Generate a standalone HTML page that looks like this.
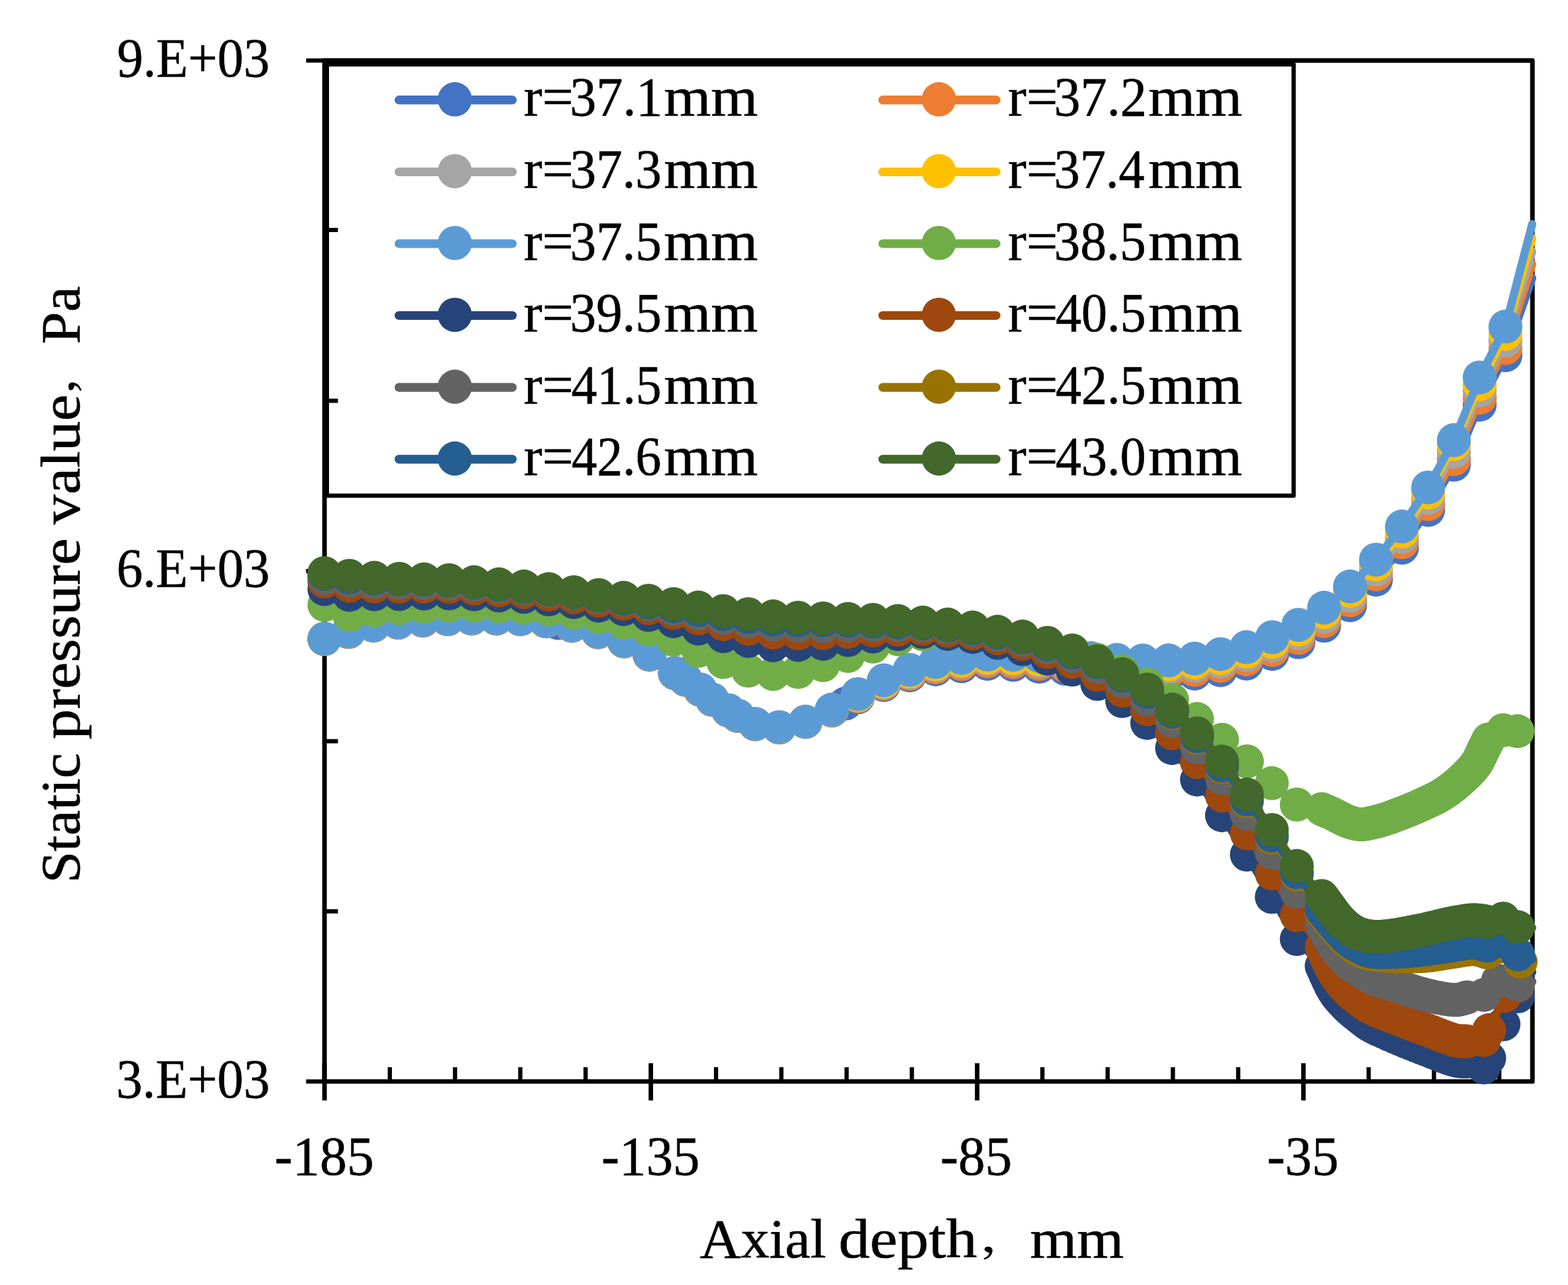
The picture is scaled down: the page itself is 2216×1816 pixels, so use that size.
<!DOCTYPE html>
<html lang="en"><head><meta charset="utf-8"><title>Static pressure value vs axial depth</title>
<style>html,body{margin:0;padding:0;background:#fff}body{width:2216px;height:1816px}svg{display:block}text{font-family:"Liberation Serif","Noto Serif CJK SC",serif;fill:#000}</style></head><body>
<svg width="2216" height="1816" viewBox="0 0 2216 1816">
<rect width="2216" height="1816" fill="#fff"/>
<g stroke="#000" stroke-width="6.4" fill="none">
<rect x="458.6" y="85.5" width="1707.1" height="1442.9" stroke-linejoin="round"/>
<line x1="432.6" y1="85.5" x2="458.6" y2="85.5" stroke-width="6"/>
<line x1="458.6" y1="325" x2="477.6" y2="325" stroke-width="6"/>
<line x1="458.6" y1="566.4" x2="477.6" y2="566.4" stroke-width="6"/>
<line x1="432.6" y1="807" x2="458.6" y2="807" stroke-width="6"/>
<line x1="458.6" y1="1047.5" x2="477.6" y2="1047.5" stroke-width="6"/>
<line x1="458.6" y1="1287.9" x2="477.6" y2="1287.9" stroke-width="6"/>
<line x1="432.6" y1="1528.4" x2="458.6" y2="1528.4" stroke-width="6"/>
<line x1="458.6" y1="1502.5" x2="458.6" y2="1555.2" stroke-width="6.4"/>
<line x1="550.9" y1="1508.2" x2="550.9" y2="1528.4" stroke-width="6"/>
<line x1="643.1" y1="1508.2" x2="643.1" y2="1528.4" stroke-width="6"/>
<line x1="735.3" y1="1508.2" x2="735.3" y2="1528.4" stroke-width="6"/>
<line x1="827.6" y1="1508.2" x2="827.6" y2="1528.4" stroke-width="6"/>
<line x1="919.8" y1="1502.5" x2="919.8" y2="1555.2" stroke-width="6.4"/>
<line x1="1012" y1="1508.2" x2="1012" y2="1528.4" stroke-width="6"/>
<line x1="1104.3" y1="1508.2" x2="1104.3" y2="1528.4" stroke-width="6"/>
<line x1="1196.5" y1="1508.2" x2="1196.5" y2="1528.4" stroke-width="6"/>
<line x1="1288.7" y1="1508.2" x2="1288.7" y2="1528.4" stroke-width="6"/>
<line x1="1381" y1="1502.5" x2="1381" y2="1555.2" stroke-width="6.4"/>
<line x1="1473.2" y1="1508.2" x2="1473.2" y2="1528.4" stroke-width="6"/>
<line x1="1565.4" y1="1508.2" x2="1565.4" y2="1528.4" stroke-width="6"/>
<line x1="1657.6" y1="1508.2" x2="1657.6" y2="1528.4" stroke-width="6"/>
<line x1="1749.9" y1="1508.2" x2="1749.9" y2="1528.4" stroke-width="6"/>
<line x1="1842.1" y1="1502.5" x2="1842.1" y2="1555.2" stroke-width="6.4"/>
<line x1="1934.3" y1="1508.2" x2="1934.3" y2="1528.4" stroke-width="6"/>
<line x1="2026.6" y1="1508.2" x2="2026.6" y2="1528.4" stroke-width="6"/>
<line x1="2118.8" y1="1508.2" x2="2118.8" y2="1528.4" stroke-width="6"/>
</g>
<rect x="462" y="91" width="1366.3" height="609.4" fill="none" stroke="#000" stroke-width="6" stroke-linejoin="round"/>
<g fill="#4472C4">
<path d="M458.5 903.3 L492.7 893.3 L527.7 884.4 L562.7 880.1 L597.6 877.2 L632.6 875.3 L666.6 874.4 L701.5 874.4 L735.5 875.3 L771.4 878.2 L808.3 884.5 L845.2 893.6 L882 906.5 L917.9 925.4 L953.8 951.6 L968.9 960.9 L989.7 975.1 L1006.7 989.2 L1029.4 1004.3 L1042.6 1011.9 L1067.2 1023.6 L1101.2 1028.3 L1138.4 1020.4 L1175.6 1004.3 L1212.5 985.6 L1249.1 968 L1285.7 954.4 L1322.3 945.9 L1358.9 941.6 L1395.5 938.1 L1432.1 939.6 L1468.7 942.2 L1505.3 945.1 L1541.9 947.3 L1578.5 950.8 L1615.1 952.7 L1651.7 953.5 L1688.3 951.9 L1724.9 947.1 L1761.5 937.8 L1798.1 924.1 L1835 907.6 L1871.3 884.3 L1908 855.3 L1944.6 819.2 L1981.3 774 L2018.3 720.7 L2054.7 656.8 L2091.2 571.9 L2127.6 502.1 L2165.4 392.8" fill="none" stroke="#4472C4" stroke-width="11.6" stroke-linecap="round" stroke-linejoin="round"/>
<circle cx="458.5" cy="903.3" r="24"/><circle cx="492.7" cy="893.3" r="24"/><circle cx="527.7" cy="884.4" r="24"/><circle cx="562.7" cy="880.1" r="24"/><circle cx="597.6" cy="877.2" r="24"/><circle cx="632.6" cy="875.3" r="24"/><circle cx="666.6" cy="874.4" r="24"/><circle cx="701.5" cy="874.4" r="24"/><circle cx="735.5" cy="875.3" r="24"/><circle cx="771.4" cy="878.2" r="24"/><circle cx="808.3" cy="884.5" r="24"/><circle cx="845.2" cy="893.6" r="24"/><circle cx="882" cy="906.5" r="24"/><circle cx="917.9" cy="925.4" r="24"/><circle cx="953.8" cy="951.6" r="24"/><circle cx="968.9" cy="960.9" r="24"/><circle cx="989.7" cy="975.1" r="24"/><circle cx="1006.7" cy="989.2" r="24"/><circle cx="1029.4" cy="1004.3" r="24"/><circle cx="1042.6" cy="1011.9" r="24"/><circle cx="1067.2" cy="1023.6" r="24"/><circle cx="1101.2" cy="1028.3" r="24"/><circle cx="1138.4" cy="1020.4" r="24"/><circle cx="1175.6" cy="1004.3" r="24"/><circle cx="1212.5" cy="985.6" r="24"/><circle cx="1249.1" cy="968" r="24"/><circle cx="1285.7" cy="954.4" r="24"/><circle cx="1322.3" cy="945.9" r="24"/><circle cx="1358.9" cy="941.6" r="24"/><circle cx="1395.5" cy="938.1" r="24"/><circle cx="1432.1" cy="939.6" r="24"/><circle cx="1468.7" cy="942.2" r="24"/><circle cx="1505.3" cy="945.1" r="24"/><circle cx="1541.9" cy="947.3" r="24"/><circle cx="1578.5" cy="950.8" r="24"/><circle cx="1615.1" cy="952.7" r="24"/><circle cx="1651.7" cy="953.5" r="24"/><circle cx="1688.3" cy="951.9" r="24"/><circle cx="1724.9" cy="947.1" r="24"/><circle cx="1761.5" cy="937.8" r="24"/><circle cx="1798.1" cy="924.1" r="24"/><circle cx="1835" cy="907.6" r="24"/><circle cx="1871.3" cy="884.3" r="24"/><circle cx="1908" cy="855.3" r="24"/><circle cx="1944.6" cy="819.2" r="24"/><circle cx="1981.3" cy="774" r="24"/><circle cx="2018.3" cy="720.7" r="24"/><circle cx="2054.7" cy="656.8" r="24"/><circle cx="2091.2" cy="571.9" r="24"/><circle cx="2127.6" cy="502.1" r="24"/><circle cx="788.4" cy="880.4" r="24"/><circle cx="1194.8" cy="994.3" r="24"/>
</g>
<g fill="#ED7D31">
<path d="M458.5 903.2 L492.7 893.2 L527.7 884.2 L562.7 880 L597.6 877.1 L632.6 875.2 L666.6 874.2 L701.5 874.2 L735.5 875.2 L771.4 878.1 L808.3 884.4 L845.2 893.5 L882 906.4 L917.9 925.2 L953.8 951.5 L968.9 960.8 L989.7 975 L1006.7 989.1 L1029.4 1004.2 L1042.6 1011.8 L1067.2 1023.5 L1101.2 1028.2 L1138.4 1020.2 L1175.6 1003.9 L1212.5 984.4 L1249.1 966.3 L1285.7 952.3 L1322.3 943.1 L1358.9 938.5 L1395.5 934.6 L1432.1 935.8 L1468.7 938.2 L1505.3 940.9 L1541.9 942.9 L1578.5 946.2 L1615.1 947.9 L1651.7 948.5 L1688.3 946.7 L1724.9 941 L1761.5 931.9 L1798.1 918.5 L1835 901.5 L1871.3 877.8 L1908 848.3 L1944.6 811.9 L1981.3 766.4 L2018.3 712.5 L2054.7 648.8 L2091.2 562.2 L2127.6 491.9 L2165.4 373.5" fill="none" stroke="#ED7D31" stroke-width="11.6" stroke-linecap="round" stroke-linejoin="round"/>
<circle cx="458.5" cy="903.2" r="24"/><circle cx="492.7" cy="893.2" r="24"/><circle cx="527.7" cy="884.2" r="24"/><circle cx="562.7" cy="880" r="24"/><circle cx="597.6" cy="877.1" r="24"/><circle cx="632.6" cy="875.2" r="24"/><circle cx="666.6" cy="874.2" r="24"/><circle cx="701.5" cy="874.2" r="24"/><circle cx="735.5" cy="875.2" r="24"/><circle cx="771.4" cy="878.1" r="24"/><circle cx="808.3" cy="884.4" r="24"/><circle cx="845.2" cy="893.5" r="24"/><circle cx="882" cy="906.4" r="24"/><circle cx="917.9" cy="925.2" r="24"/><circle cx="953.8" cy="951.5" r="24"/><circle cx="968.9" cy="960.8" r="24"/><circle cx="989.7" cy="975" r="24"/><circle cx="1006.7" cy="989.1" r="24"/><circle cx="1029.4" cy="1004.2" r="24"/><circle cx="1042.6" cy="1011.8" r="24"/><circle cx="1067.2" cy="1023.5" r="24"/><circle cx="1101.2" cy="1028.2" r="24"/><circle cx="1138.4" cy="1020.2" r="24"/><circle cx="1175.6" cy="1003.9" r="24"/><circle cx="1212.5" cy="984.4" r="24"/><circle cx="1249.1" cy="966.3" r="24"/><circle cx="1285.7" cy="952.3" r="24"/><circle cx="1322.3" cy="943.1" r="24"/><circle cx="1358.9" cy="938.5" r="24"/><circle cx="1395.5" cy="934.6" r="24"/><circle cx="1432.1" cy="935.8" r="24"/><circle cx="1468.7" cy="938.2" r="24"/><circle cx="1505.3" cy="940.9" r="24"/><circle cx="1541.9" cy="942.9" r="24"/><circle cx="1578.5" cy="946.2" r="24"/><circle cx="1615.1" cy="947.9" r="24"/><circle cx="1651.7" cy="948.5" r="24"/><circle cx="1688.3" cy="946.7" r="24"/><circle cx="1724.9" cy="941" r="24"/><circle cx="1761.5" cy="931.9" r="24"/><circle cx="1798.1" cy="918.5" r="24"/><circle cx="1835" cy="901.5" r="24"/><circle cx="1871.3" cy="877.8" r="24"/><circle cx="1908" cy="848.3" r="24"/><circle cx="1944.6" cy="811.9" r="24"/><circle cx="1981.3" cy="766.4" r="24"/><circle cx="2018.3" cy="712.5" r="24"/><circle cx="2054.7" cy="648.8" r="24"/><circle cx="2091.2" cy="562.2" r="24"/><circle cx="2127.6" cy="491.9" r="24"/>
</g>
<g fill="#A5A5A5">
<path d="M458.5 903 L492.7 893 L527.7 884.1 L562.7 879.8 L597.6 876.9 L632.6 875 L666.6 874.1 L701.5 874.1 L735.5 875 L771.4 877.9 L808.3 884.2 L845.2 893.3 L882 906.2 L917.9 925.1 L953.8 951.3 L968.9 960.6 L989.7 974.8 L1006.7 988.9 L1029.4 1004 L1042.6 1011.6 L1067.2 1023.3 L1101.2 1028 L1138.4 1020.1 L1175.6 1003.5 L1212.5 983.2 L1249.1 964.7 L1285.7 950.5 L1322.3 940.6 L1358.9 935.6 L1395.5 931.5 L1432.1 932.4 L1468.7 934.4 L1505.3 936.8 L1541.9 938.4 L1578.5 941.3 L1615.1 942.6 L1651.7 942.9 L1688.3 940.7 L1724.9 935 L1761.5 925.8 L1798.1 912.2 L1835 895.2 L1871.3 871.5 L1908 842 L1944.6 805 L1981.3 758.8 L2018.3 703.9 L2054.7 638.3 L2091.2 551.9 L2127.6 481.6 L2165.4 355.6" fill="none" stroke="#A5A5A5" stroke-width="11.6" stroke-linecap="round" stroke-linejoin="round"/>
<circle cx="458.5" cy="903" r="24"/><circle cx="492.7" cy="893" r="24"/><circle cx="527.7" cy="884.1" r="24"/><circle cx="562.7" cy="879.8" r="24"/><circle cx="597.6" cy="876.9" r="24"/><circle cx="632.6" cy="875" r="24"/><circle cx="666.6" cy="874.1" r="24"/><circle cx="701.5" cy="874.1" r="24"/><circle cx="735.5" cy="875" r="24"/><circle cx="771.4" cy="877.9" r="24"/><circle cx="808.3" cy="884.2" r="24"/><circle cx="845.2" cy="893.3" r="24"/><circle cx="882" cy="906.2" r="24"/><circle cx="917.9" cy="925.1" r="24"/><circle cx="953.8" cy="951.3" r="24"/><circle cx="968.9" cy="960.6" r="24"/><circle cx="989.7" cy="974.8" r="24"/><circle cx="1006.7" cy="988.9" r="24"/><circle cx="1029.4" cy="1004" r="24"/><circle cx="1042.6" cy="1011.6" r="24"/><circle cx="1067.2" cy="1023.3" r="24"/><circle cx="1101.2" cy="1028" r="24"/><circle cx="1138.4" cy="1020.1" r="24"/><circle cx="1175.6" cy="1003.5" r="24"/><circle cx="1212.5" cy="983.2" r="24"/><circle cx="1249.1" cy="964.7" r="24"/><circle cx="1285.7" cy="950.5" r="24"/><circle cx="1322.3" cy="940.6" r="24"/><circle cx="1358.9" cy="935.6" r="24"/><circle cx="1395.5" cy="931.5" r="24"/><circle cx="1432.1" cy="932.4" r="24"/><circle cx="1468.7" cy="934.4" r="24"/><circle cx="1505.3" cy="936.8" r="24"/><circle cx="1541.9" cy="938.4" r="24"/><circle cx="1578.5" cy="941.3" r="24"/><circle cx="1615.1" cy="942.6" r="24"/><circle cx="1651.7" cy="942.9" r="24"/><circle cx="1688.3" cy="940.7" r="24"/><circle cx="1724.9" cy="935" r="24"/><circle cx="1761.5" cy="925.8" r="24"/><circle cx="1798.1" cy="912.2" r="24"/><circle cx="1835" cy="895.2" r="24"/><circle cx="1871.3" cy="871.5" r="24"/><circle cx="1908" cy="842" r="24"/><circle cx="1944.6" cy="805" r="24"/><circle cx="1981.3" cy="758.8" r="24"/><circle cx="2018.3" cy="703.9" r="24"/><circle cx="2054.7" cy="638.3" r="24"/><circle cx="2091.2" cy="551.9" r="24"/><circle cx="2127.6" cy="481.6" r="24"/>
</g>
<g fill="#FFC000">
<path d="M458.5 902.9 L492.7 892.9 L527.7 884 L562.7 879.7 L597.6 876.8 L632.6 874.9 L666.6 874 L701.5 874 L735.5 874.9 L771.4 877.8 L808.3 884.1 L845.2 893.2 L882 906.1 L917.9 925 L953.8 951.2 L968.9 960.5 L989.7 974.7 L1006.7 988.8 L1029.4 1003.9 L1042.6 1011.5 L1067.2 1023.2 L1101.2 1027.9 L1138.4 1020 L1175.6 1003.2 L1212.5 982.3 L1249.1 963.4 L1285.7 949 L1322.3 938.7 L1358.9 933.6 L1395.5 929.3 L1432.1 930.1 L1468.7 931.8 L1505.3 933.9 L1541.9 935.2 L1578.5 937.9 L1615.1 938.9 L1651.7 938.9 L1688.3 936.4 L1724.9 930.1 L1761.5 920.8 L1798.1 907.1 L1835 889.5 L1871.3 865.1 L1908 835 L1944.6 797.7 L1981.3 751.3 L2018.3 696 L2054.7 627.6 L2091.2 543 L2127.6 471.8 L2165.4 336.7" fill="none" stroke="#FFC000" stroke-width="11.6" stroke-linecap="round" stroke-linejoin="round"/>
<circle cx="458.5" cy="902.9" r="24"/><circle cx="492.7" cy="892.9" r="24"/><circle cx="527.7" cy="884" r="24"/><circle cx="562.7" cy="879.7" r="24"/><circle cx="597.6" cy="876.8" r="24"/><circle cx="632.6" cy="874.9" r="24"/><circle cx="666.6" cy="874" r="24"/><circle cx="701.5" cy="874" r="24"/><circle cx="735.5" cy="874.9" r="24"/><circle cx="771.4" cy="877.8" r="24"/><circle cx="808.3" cy="884.1" r="24"/><circle cx="845.2" cy="893.2" r="24"/><circle cx="882" cy="906.1" r="24"/><circle cx="917.9" cy="925" r="24"/><circle cx="953.8" cy="951.2" r="24"/><circle cx="968.9" cy="960.5" r="24"/><circle cx="989.7" cy="974.7" r="24"/><circle cx="1006.7" cy="988.8" r="24"/><circle cx="1029.4" cy="1003.9" r="24"/><circle cx="1042.6" cy="1011.5" r="24"/><circle cx="1067.2" cy="1023.2" r="24"/><circle cx="1101.2" cy="1027.9" r="24"/><circle cx="1138.4" cy="1020" r="24"/><circle cx="1175.6" cy="1003.2" r="24"/><circle cx="1212.5" cy="982.3" r="24"/><circle cx="1249.1" cy="963.4" r="24"/><circle cx="1285.7" cy="949" r="24"/><circle cx="1322.3" cy="938.7" r="24"/><circle cx="1358.9" cy="933.6" r="24"/><circle cx="1395.5" cy="929.3" r="24"/><circle cx="1432.1" cy="930.1" r="24"/><circle cx="1468.7" cy="931.8" r="24"/><circle cx="1505.3" cy="933.9" r="24"/><circle cx="1541.9" cy="935.2" r="24"/><circle cx="1578.5" cy="937.9" r="24"/><circle cx="1615.1" cy="938.9" r="24"/><circle cx="1651.7" cy="938.9" r="24"/><circle cx="1688.3" cy="936.4" r="24"/><circle cx="1724.9" cy="930.1" r="24"/><circle cx="1761.5" cy="920.8" r="24"/><circle cx="1798.1" cy="907.1" r="24"/><circle cx="1835" cy="889.5" r="24"/><circle cx="1871.3" cy="865.1" r="24"/><circle cx="1908" cy="835" r="24"/><circle cx="1944.6" cy="797.7" r="24"/><circle cx="1981.3" cy="751.3" r="24"/><circle cx="2018.3" cy="696" r="24"/><circle cx="2054.7" cy="627.6" r="24"/><circle cx="2091.2" cy="543" r="24"/><circle cx="2127.6" cy="471.8" r="24"/>
</g>
<g fill="#5B9BD5">
<path d="M458.5 902.7 L492.7 892.7 L527.7 883.8 L562.7 879.5 L597.6 876.6 L632.6 874.7 L666.6 873.8 L701.5 873.8 L735.5 874.7 L771.4 877.6 L808.3 883.9 L845.2 893 L882 905.9 L917.9 924.8 L953.8 951 L968.9 960.3 L989.7 974.5 L1006.7 988.6 L1029.4 1003.7 L1042.6 1011.3 L1067.2 1023 L1101.2 1027.7 L1138.4 1019.8 L1175.6 1002.8 L1212.5 980.9 L1249.1 961.4 L1285.7 946.7 L1322.3 935.5 L1358.9 929.9 L1395.5 925.1 L1432.1 925.4 L1468.7 927 L1505.3 928.9 L1541.9 930.1 L1578.5 932.6 L1615.1 933.5 L1651.7 933.3 L1688.3 930.7 L1724.9 924.4 L1761.5 914.6 L1798.1 900.5 L1835 883 L1871.3 858.8 L1908 828.8 L1944.6 791 L1981.3 744.1 L2018.3 688.9 L2054.7 622.1 L2091.2 533.4 L2127.6 461.6 L2165.4 316.8" fill="none" stroke="#5B9BD5" stroke-width="11.6" stroke-linecap="round" stroke-linejoin="round"/>
<circle cx="458.5" cy="902.7" r="24"/><circle cx="492.7" cy="892.7" r="24"/><circle cx="527.7" cy="883.8" r="24"/><circle cx="562.7" cy="879.5" r="24"/><circle cx="597.6" cy="876.6" r="24"/><circle cx="632.6" cy="874.7" r="24"/><circle cx="666.6" cy="873.8" r="24"/><circle cx="701.5" cy="873.8" r="24"/><circle cx="735.5" cy="874.7" r="24"/><circle cx="771.4" cy="877.6" r="24"/><circle cx="808.3" cy="883.9" r="24"/><circle cx="845.2" cy="893" r="24"/><circle cx="882" cy="905.9" r="24"/><circle cx="917.9" cy="924.8" r="24"/><circle cx="953.8" cy="951" r="24"/><circle cx="968.9" cy="960.3" r="24"/><circle cx="989.7" cy="974.5" r="24"/><circle cx="1006.7" cy="988.6" r="24"/><circle cx="1029.4" cy="1003.7" r="24"/><circle cx="1042.6" cy="1011.3" r="24"/><circle cx="1067.2" cy="1023" r="24"/><circle cx="1101.2" cy="1027.7" r="24"/><circle cx="1138.4" cy="1019.8" r="24"/><circle cx="1175.6" cy="1002.8" r="24"/><circle cx="1212.5" cy="980.9" r="24"/><circle cx="1249.1" cy="961.4" r="24"/><circle cx="1285.7" cy="946.7" r="24"/><circle cx="1322.3" cy="935.5" r="24"/><circle cx="1358.9" cy="929.9" r="24"/><circle cx="1395.5" cy="925.1" r="24"/><circle cx="1432.1" cy="925.4" r="24"/><circle cx="1468.7" cy="927" r="24"/><circle cx="1505.3" cy="928.9" r="24"/><circle cx="1541.9" cy="930.1" r="24"/><circle cx="1578.5" cy="932.6" r="24"/><circle cx="1615.1" cy="933.5" r="24"/><circle cx="1651.7" cy="933.3" r="24"/><circle cx="1688.3" cy="930.7" r="24"/><circle cx="1724.9" cy="924.4" r="24"/><circle cx="1761.5" cy="914.6" r="24"/><circle cx="1798.1" cy="900.5" r="24"/><circle cx="1835" cy="883" r="24"/><circle cx="1871.3" cy="858.8" r="24"/><circle cx="1908" cy="828.8" r="24"/><circle cx="1944.6" cy="791" r="24"/><circle cx="1981.3" cy="744.1" r="24"/><circle cx="2018.3" cy="688.9" r="24"/><circle cx="2054.7" cy="622.1" r="24"/><circle cx="2091.2" cy="533.4" r="24"/><circle cx="2127.6" cy="461.6" r="24"/>
</g>
<g fill="#70AD47">
<path d="M458.5 854.9 L493.7 869.1 L529 862.5 L564.2 859.6 L599.4 857.7 L634.7 855.9 L669.9 855.9 L705.1 856.8 L740.4 858.7 L775.6 861 L810.9 865.8 L846.1 871.9 L881.3 880.2 L916.6 889.6 L951.8 904 L987 919.8 L1022.3 935.5 L1057.5 947.8 L1092.7 952.5 L1128 949.7 L1163.2 940.1 L1198.4 927 L1233.7 913.8 L1268.9 903.4 L1304.1 896.4 L1339.4 896.3 L1374.6 897.6 L1409.8 900.7 L1445.1 904.6 L1480.3 910.5 L1515.5 918.9 L1550.8 932.6 L1586 948.6 L1621.3 967.5 L1656.5 989.1 L1691.7 1016.1 L1727 1045.4 L1762.2 1076 L1797.4 1106.8 L1832.7 1137 L1867.9 1143.5 L1870.8 1144.8 L1875 1146.6 L1879.8 1148.7 L1884.5 1150.8 L1889 1153.2 L1893.8 1155.7 L1898.6 1158.2 L1903.4 1160.3 L1908.1 1162 L1912.8 1163.5 L1917.5 1164.6 L1922.3 1165.2 L1927 1165.1 L1931.7 1164.3 L1936.4 1163.3 L1941.2 1162.2 L1945.9 1161 L1950.6 1159.8 L1955.3 1158.4 L1960.1 1156.9 L1964.8 1155.3 L1969.5 1153.5 L1974.2 1151.7 L1978.9 1149.9 L1983.7 1148.1 L1988.4 1146.2 L1993.1 1144.3 L1997.8 1142.3 L2002.6 1140.3 L2007.3 1138.2 L2012 1136 L2016.7 1133.8 L2021.5 1131.6 L2026.2 1129.4 L2030.9 1127 L2035.6 1124.4 L2040.4 1121.4 L2045.1 1118.2 L2049.8 1114.8 L2054.5 1111.2 L2059.4 1107.1 L2064.3 1102.8 L2069.1 1098.4 L2073.4 1094.2 L2077.2 1090.3 L2080.6 1086.7 L2083.7 1083 L2086.6 1079 L2089.3 1074.5 L2091.7 1069.6 L2094 1064.7 L2096.1 1060.1 L2098.3 1055.7 L2100.5 1051.4 L2102.3 1047.7 L2103.7 1045 L2124.4 1032 L2144.7 1033.3" fill="none" stroke="#70AD47" stroke-width="11.6" stroke-linecap="round" stroke-linejoin="round"/>
<circle cx="458.5" cy="854.9" r="24"/><circle cx="493.7" cy="869.1" r="24"/><circle cx="529" cy="862.5" r="24"/><circle cx="564.2" cy="859.6" r="24"/><circle cx="599.4" cy="857.7" r="24"/><circle cx="634.7" cy="855.9" r="24"/><circle cx="669.9" cy="855.9" r="24"/><circle cx="705.1" cy="856.8" r="24"/><circle cx="740.4" cy="858.7" r="24"/><circle cx="775.6" cy="861" r="24"/><circle cx="810.9" cy="865.8" r="24"/><circle cx="846.1" cy="871.9" r="24"/><circle cx="881.3" cy="880.2" r="24"/><circle cx="916.6" cy="889.6" r="24"/><circle cx="951.8" cy="904" r="24"/><circle cx="987" cy="919.8" r="24"/><circle cx="1022.3" cy="935.5" r="24"/><circle cx="1057.5" cy="947.8" r="24"/><circle cx="1092.7" cy="952.5" r="24"/><circle cx="1128" cy="949.7" r="24"/><circle cx="1163.2" cy="940.1" r="24"/><circle cx="1198.4" cy="927" r="24"/><circle cx="1233.7" cy="913.8" r="24"/><circle cx="1268.9" cy="903.4" r="24"/><circle cx="1304.1" cy="896.4" r="24"/><circle cx="1339.4" cy="896.3" r="24"/><circle cx="1374.6" cy="897.6" r="24"/><circle cx="1409.8" cy="900.7" r="24"/><circle cx="1445.1" cy="904.6" r="24"/><circle cx="1480.3" cy="910.5" r="24"/><circle cx="1515.5" cy="918.9" r="24"/><circle cx="1550.8" cy="932.6" r="24"/><circle cx="1586" cy="948.6" r="24"/><circle cx="1621.3" cy="967.5" r="24"/><circle cx="1656.5" cy="989.1" r="24"/><circle cx="1691.7" cy="1016.1" r="24"/><circle cx="1727" cy="1045.4" r="24"/><circle cx="1762.2" cy="1076" r="24"/><circle cx="1797.4" cy="1106.8" r="24"/><circle cx="1832.7" cy="1137" r="24"/><circle cx="1867.9" cy="1143.5" r="24"/><circle cx="1870.8" cy="1144.8" r="24"/><circle cx="1875" cy="1146.6" r="24"/><circle cx="1879.8" cy="1148.7" r="24"/><circle cx="1884.5" cy="1150.8" r="24"/><circle cx="1889" cy="1153.2" r="24"/><circle cx="1893.8" cy="1155.7" r="24"/><circle cx="1898.6" cy="1158.2" r="24"/><circle cx="1903.4" cy="1160.3" r="24"/><circle cx="1908.1" cy="1162" r="24"/><circle cx="1912.8" cy="1163.5" r="24"/><circle cx="1917.5" cy="1164.6" r="24"/><circle cx="1922.3" cy="1165.2" r="24"/><circle cx="1927" cy="1165.1" r="24"/><circle cx="1931.7" cy="1164.3" r="24"/><circle cx="1936.4" cy="1163.3" r="24"/><circle cx="1941.2" cy="1162.2" r="24"/><circle cx="1945.9" cy="1161" r="24"/><circle cx="1950.6" cy="1159.8" r="24"/><circle cx="1955.3" cy="1158.4" r="24"/><circle cx="1960.1" cy="1156.9" r="24"/><circle cx="1964.8" cy="1155.3" r="24"/><circle cx="1969.5" cy="1153.5" r="24"/><circle cx="1974.2" cy="1151.7" r="24"/><circle cx="1978.9" cy="1149.9" r="24"/><circle cx="1983.7" cy="1148.1" r="24"/><circle cx="1988.4" cy="1146.2" r="24"/><circle cx="1993.1" cy="1144.3" r="24"/><circle cx="1997.8" cy="1142.3" r="24"/><circle cx="2002.6" cy="1140.3" r="24"/><circle cx="2007.3" cy="1138.2" r="24"/><circle cx="2012" cy="1136" r="24"/><circle cx="2016.7" cy="1133.8" r="24"/><circle cx="2021.5" cy="1131.6" r="24"/><circle cx="2026.2" cy="1129.4" r="24"/><circle cx="2030.9" cy="1127" r="24"/><circle cx="2035.6" cy="1124.4" r="24"/><circle cx="2040.4" cy="1121.4" r="24"/><circle cx="2045.1" cy="1118.2" r="24"/><circle cx="2049.8" cy="1114.8" r="24"/><circle cx="2054.5" cy="1111.2" r="24"/><circle cx="2059.4" cy="1107.1" r="24"/><circle cx="2064.3" cy="1102.8" r="24"/><circle cx="2069.1" cy="1098.4" r="24"/><circle cx="2073.4" cy="1094.2" r="24"/><circle cx="2077.2" cy="1090.3" r="24"/><circle cx="2080.6" cy="1086.7" r="24"/><circle cx="2083.7" cy="1083" r="24"/><circle cx="2086.6" cy="1079" r="24"/><circle cx="2089.3" cy="1074.5" r="24"/><circle cx="2091.7" cy="1069.6" r="24"/><circle cx="2094" cy="1064.7" r="24"/><circle cx="2096.1" cy="1060.1" r="24"/><circle cx="2098.3" cy="1055.7" r="24"/><circle cx="2100.5" cy="1051.4" r="24"/><circle cx="2102.3" cy="1047.7" r="24"/><circle cx="2103.7" cy="1045" r="24"/><circle cx="2124.4" cy="1032" r="24"/><circle cx="2144.7" cy="1033.3" r="24"/>
</g>
<g fill="#264478">
<path d="M458.5 832.6 L493.7 840.7 L529 839.8 L564.2 839.5 L599.4 838.8 L634.7 838.5 L669.9 839.8 L705.1 841.6 L740.4 843.5 L775.6 847 L810.9 850.9 L846.1 855.9 L881.3 860.9 L916.6 869.1 L951.8 877.9 L987 888.4 L1022.3 899 L1057.5 905.9 L1092.7 911.9 L1128 911.4 L1163.2 909.9 L1198.4 904.5 L1233.7 899.6 L1268.9 896.1 L1304.1 893 L1339.4 895.9 L1374.6 900.2 L1409.8 908.5 L1445.1 917.6 L1480.3 930.8 L1515.5 946.3 L1550.8 966.5 L1586 990.8 L1621.3 1021.7 L1656.5 1057.2 L1691.7 1101.7 L1727 1152.2 L1762.2 1207.8 L1797.4 1267.6 L1832.7 1327.1 L1867.9 1365.1 L1870.1 1370 L1873.2 1377.2 L1876.9 1385.3 L1880.7 1393.3 L1884.5 1400.1 L1888.1 1405.5 L1891.9 1410.3 L1895.7 1414.7 L1899.6 1418.8 L1903.4 1422.7 L1907.1 1426.4 L1910.9 1429.8 L1914.7 1432.9 L1918.5 1435.9 L1922.3 1438.8 L1925.7 1441.5 L1928.9 1444 L1932.2 1446.5 L1936.2 1449 L1941.2 1451.8 L1947.5 1455 L1954.9 1458.4 L1962.9 1462 L1971.1 1465.5 L1978.9 1468.8 L1986.5 1472 L1994.1 1475.1 L2001.6 1478.1 L2009.2 1481 L2016.7 1483.9 L2024.6 1487 L2032.8 1490.3 L2040.8 1493.4 L2048.2 1496.1 L2054.5 1498.1 L2059.8 1499.3 L2064.4 1499.8 L2068.1 1500 L2071.2 1499.9 L2073.4 1500 L2097 1508.5 L2104.6 1495.5 L2124.8 1447.5 L2145.2 1408 L2165.4 1373.5" fill="none" stroke="#264478" stroke-width="11.6" stroke-linecap="round" stroke-linejoin="round"/>
<circle cx="458.5" cy="832.6" r="24"/><circle cx="493.7" cy="840.7" r="24"/><circle cx="529" cy="839.8" r="24"/><circle cx="564.2" cy="839.5" r="24"/><circle cx="599.4" cy="838.8" r="24"/><circle cx="634.7" cy="838.5" r="24"/><circle cx="669.9" cy="839.8" r="24"/><circle cx="705.1" cy="841.6" r="24"/><circle cx="740.4" cy="843.5" r="24"/><circle cx="775.6" cy="847" r="24"/><circle cx="810.9" cy="850.9" r="24"/><circle cx="846.1" cy="855.9" r="24"/><circle cx="881.3" cy="860.9" r="24"/><circle cx="916.6" cy="869.1" r="24"/><circle cx="951.8" cy="877.9" r="24"/><circle cx="987" cy="888.4" r="24"/><circle cx="1022.3" cy="899" r="24"/><circle cx="1057.5" cy="905.9" r="24"/><circle cx="1092.7" cy="911.9" r="24"/><circle cx="1128" cy="911.4" r="24"/><circle cx="1163.2" cy="909.9" r="24"/><circle cx="1198.4" cy="904.5" r="24"/><circle cx="1233.7" cy="899.6" r="24"/><circle cx="1268.9" cy="896.1" r="24"/><circle cx="1304.1" cy="893" r="24"/><circle cx="1339.4" cy="895.9" r="24"/><circle cx="1374.6" cy="900.2" r="24"/><circle cx="1409.8" cy="908.5" r="24"/><circle cx="1445.1" cy="917.6" r="24"/><circle cx="1480.3" cy="930.8" r="24"/><circle cx="1515.5" cy="946.3" r="24"/><circle cx="1550.8" cy="966.5" r="24"/><circle cx="1586" cy="990.8" r="24"/><circle cx="1621.3" cy="1021.7" r="24"/><circle cx="1656.5" cy="1057.2" r="24"/><circle cx="1691.7" cy="1101.7" r="24"/><circle cx="1727" cy="1152.2" r="24"/><circle cx="1762.2" cy="1207.8" r="24"/><circle cx="1797.4" cy="1267.6" r="24"/><circle cx="1832.7" cy="1327.1" r="24"/><circle cx="1867.9" cy="1365.1" r="24"/><circle cx="1870.1" cy="1370" r="24"/><circle cx="1873.2" cy="1377.2" r="24"/><circle cx="1876.9" cy="1385.3" r="24"/><circle cx="1880.7" cy="1393.3" r="24"/><circle cx="1884.5" cy="1400.1" r="24"/><circle cx="1888.1" cy="1405.5" r="24"/><circle cx="1891.9" cy="1410.3" r="24"/><circle cx="1895.7" cy="1414.7" r="24"/><circle cx="1899.6" cy="1418.8" r="24"/><circle cx="1903.4" cy="1422.7" r="24"/><circle cx="1907.1" cy="1426.4" r="24"/><circle cx="1910.9" cy="1429.8" r="24"/><circle cx="1914.7" cy="1432.9" r="24"/><circle cx="1918.5" cy="1435.9" r="24"/><circle cx="1922.3" cy="1438.8" r="24"/><circle cx="1925.7" cy="1441.5" r="24"/><circle cx="1928.9" cy="1444" r="24"/><circle cx="1932.2" cy="1446.5" r="24"/><circle cx="1936.2" cy="1449" r="24"/><circle cx="1941.2" cy="1451.8" r="24"/><circle cx="1947.5" cy="1455" r="24"/><circle cx="1954.9" cy="1458.4" r="24"/><circle cx="1962.9" cy="1462" r="24"/><circle cx="1971.1" cy="1465.5" r="24"/><circle cx="1978.9" cy="1468.8" r="24"/><circle cx="1986.5" cy="1472" r="24"/><circle cx="1994.1" cy="1475.1" r="24"/><circle cx="2001.6" cy="1478.1" r="24"/><circle cx="2009.2" cy="1481" r="24"/><circle cx="2016.7" cy="1483.9" r="24"/><circle cx="2024.6" cy="1487" r="24"/><circle cx="2032.8" cy="1490.3" r="24"/><circle cx="2040.8" cy="1493.4" r="24"/><circle cx="2048.2" cy="1496.1" r="24"/><circle cx="2054.5" cy="1498.1" r="24"/><circle cx="2059.8" cy="1499.3" r="24"/><circle cx="2064.4" cy="1499.8" r="24"/><circle cx="2068.1" cy="1500" r="24"/><circle cx="2071.2" cy="1499.9" r="24"/><circle cx="2073.4" cy="1500" r="24"/><circle cx="2097" cy="1508.5" r="24"/><circle cx="2104.6" cy="1495.5" r="24"/><circle cx="2124.8" cy="1447.5" r="24"/><circle cx="2145.2" cy="1408" r="24"/>
</g>
<g fill="#9E480E">
<path d="M458.5 821.8 L493.7 827.9 L529 828.9 L564.2 829.1 L599.4 829 L634.7 829.6 L669.9 831.9 L705.1 834.4 L740.4 836.9 L775.6 840.2 L810.9 844.1 L846.1 848.8 L881.3 853.3 L916.6 859.5 L951.8 866.2 L987 874 L1022.3 882 L1057.5 888.5 L1092.7 894 L1128 895 L1163.2 894.9 L1198.4 892.8 L1233.7 891.1 L1268.9 889.8 L1304.1 888.9 L1339.4 891.4 L1374.6 895.3 L1409.8 902.2 L1445.1 910 L1480.3 921.5 L1515.5 935.5 L1550.8 953.7 L1586 976 L1621.3 1002.5 L1656.5 1036.4 L1691.7 1077.1 L1727 1124.4 L1762.2 1177.8 L1797.4 1234.5 L1832.7 1293.5 L1867.9 1338.6 L1870.1 1343.5 L1873.2 1350.6 L1876.9 1358.7 L1880.7 1366.7 L1884.5 1373.6 L1888.1 1379.3 L1891.9 1384.6 L1895.7 1389.5 L1899.6 1394 L1903.4 1398.2 L1907.1 1402 L1910.9 1405.4 L1914.7 1408.5 L1918.5 1411.4 L1922.3 1414.2 L1925.7 1416.8 L1928.9 1419.2 L1932.2 1421.5 L1936.2 1423.8 L1941.2 1426.3 L1947.5 1429.2 L1954.9 1432.2 L1962.9 1435.3 L1971.1 1438.4 L1978.9 1441.4 L1986.5 1444.3 L1994.1 1447.2 L2001.6 1450 L2009.2 1452.8 L2016.7 1455.6 L2024.6 1458.6 L2032.8 1461.9 L2040.8 1465 L2048.2 1467.7 L2054.5 1469.8 L2059.8 1471 L2064.4 1471.5 L2068.1 1471.6 L2071.2 1471.6 L2073.4 1471.7 L2097 1469.8 L2104.6 1455.8 L2126.3 1407.4 L2145.2 1393.4 L2165.4 1387.3" fill="none" stroke="#9E480E" stroke-width="11.6" stroke-linecap="round" stroke-linejoin="round"/>
<circle cx="458.5" cy="821.8" r="24"/><circle cx="493.7" cy="827.9" r="24"/><circle cx="529" cy="828.9" r="24"/><circle cx="564.2" cy="829.1" r="24"/><circle cx="599.4" cy="829" r="24"/><circle cx="634.7" cy="829.6" r="24"/><circle cx="669.9" cy="831.9" r="24"/><circle cx="705.1" cy="834.4" r="24"/><circle cx="740.4" cy="836.9" r="24"/><circle cx="775.6" cy="840.2" r="24"/><circle cx="810.9" cy="844.1" r="24"/><circle cx="846.1" cy="848.8" r="24"/><circle cx="881.3" cy="853.3" r="24"/><circle cx="916.6" cy="859.5" r="24"/><circle cx="951.8" cy="866.2" r="24"/><circle cx="987" cy="874" r="24"/><circle cx="1022.3" cy="882" r="24"/><circle cx="1057.5" cy="888.5" r="24"/><circle cx="1092.7" cy="894" r="24"/><circle cx="1128" cy="895" r="24"/><circle cx="1163.2" cy="894.9" r="24"/><circle cx="1198.4" cy="892.8" r="24"/><circle cx="1233.7" cy="891.1" r="24"/><circle cx="1268.9" cy="889.8" r="24"/><circle cx="1304.1" cy="888.9" r="24"/><circle cx="1339.4" cy="891.4" r="24"/><circle cx="1374.6" cy="895.3" r="24"/><circle cx="1409.8" cy="902.2" r="24"/><circle cx="1445.1" cy="910" r="24"/><circle cx="1480.3" cy="921.5" r="24"/><circle cx="1515.5" cy="935.5" r="24"/><circle cx="1550.8" cy="953.7" r="24"/><circle cx="1586" cy="976" r="24"/><circle cx="1621.3" cy="1002.5" r="24"/><circle cx="1656.5" cy="1036.4" r="24"/><circle cx="1691.7" cy="1077.1" r="24"/><circle cx="1727" cy="1124.4" r="24"/><circle cx="1762.2" cy="1177.8" r="24"/><circle cx="1797.4" cy="1234.5" r="24"/><circle cx="1832.7" cy="1293.5" r="24"/><circle cx="1867.9" cy="1338.6" r="24"/><circle cx="1870.1" cy="1343.5" r="24"/><circle cx="1873.2" cy="1350.6" r="24"/><circle cx="1876.9" cy="1358.7" r="24"/><circle cx="1880.7" cy="1366.7" r="24"/><circle cx="1884.5" cy="1373.6" r="24"/><circle cx="1888.1" cy="1379.3" r="24"/><circle cx="1891.9" cy="1384.6" r="24"/><circle cx="1895.7" cy="1389.5" r="24"/><circle cx="1899.6" cy="1394" r="24"/><circle cx="1903.4" cy="1398.2" r="24"/><circle cx="1907.1" cy="1402" r="24"/><circle cx="1910.9" cy="1405.4" r="24"/><circle cx="1914.7" cy="1408.5" r="24"/><circle cx="1918.5" cy="1411.4" r="24"/><circle cx="1922.3" cy="1414.2" r="24"/><circle cx="1925.7" cy="1416.8" r="24"/><circle cx="1928.9" cy="1419.2" r="24"/><circle cx="1932.2" cy="1421.5" r="24"/><circle cx="1936.2" cy="1423.8" r="24"/><circle cx="1941.2" cy="1426.3" r="24"/><circle cx="1947.5" cy="1429.2" r="24"/><circle cx="1954.9" cy="1432.2" r="24"/><circle cx="1962.9" cy="1435.3" r="24"/><circle cx="1971.1" cy="1438.4" r="24"/><circle cx="1978.9" cy="1441.4" r="24"/><circle cx="1986.5" cy="1444.3" r="24"/><circle cx="1994.1" cy="1447.2" r="24"/><circle cx="2001.6" cy="1450" r="24"/><circle cx="2009.2" cy="1452.8" r="24"/><circle cx="2016.7" cy="1455.6" r="24"/><circle cx="2024.6" cy="1458.6" r="24"/><circle cx="2032.8" cy="1461.9" r="24"/><circle cx="2040.8" cy="1465" r="24"/><circle cx="2048.2" cy="1467.7" r="24"/><circle cx="2054.5" cy="1469.8" r="24"/><circle cx="2059.8" cy="1471" r="24"/><circle cx="2064.4" cy="1471.5" r="24"/><circle cx="2068.1" cy="1471.6" r="24"/><circle cx="2071.2" cy="1471.6" r="24"/><circle cx="2073.4" cy="1471.7" r="24"/><circle cx="2097" cy="1469.8" r="24"/><circle cx="2104.6" cy="1455.8" r="24"/><circle cx="2126.3" cy="1407.4" r="24"/><circle cx="2145.2" cy="1393.4" r="24"/>
</g>
<g fill="#636363">
<path d="M458.5 817.1 L493.7 820.9 L529 823.2 L564.2 823.9 L599.4 824.3 L634.7 824.9 L669.9 827 L705.1 829.4 L740.4 831.8 L775.6 835.1 L810.9 839 L846.1 843.5 L881.3 848 L916.6 854.2 L951.8 860.9 L987 867.2 L1022.3 873.7 L1057.5 878.6 L1092.7 882.6 L1128 884.5 L1163.2 885.4 L1198.4 884.2 L1233.7 883.6 L1268.9 883.6 L1304.1 884 L1339.4 886.7 L1374.6 890.8 L1409.8 897.3 L1445.1 904.7 L1480.3 914.9 L1515.5 927.4 L1550.8 942.9 L1586 963.2 L1621.3 988.9 L1656.5 1019 L1691.7 1056.3 L1727 1099.8 L1762.2 1150.3 L1797.4 1204.9 L1832.7 1260 L1867.9 1305.6 L1870.1 1309.8 L1873.2 1315.9 L1876.9 1322.8 L1880.7 1329.8 L1884.5 1335.8 L1888.1 1341 L1891.9 1345.9 L1895.7 1350.5 L1899.6 1354.7 L1903.4 1358.5 L1907.1 1361.8 L1910.9 1364.6 L1914.7 1367 L1918.5 1369.3 L1922.3 1371.7 L1925.7 1374.1 L1928.9 1376.3 L1932.2 1378.4 L1936.2 1380.6 L1941.2 1382.9 L1947.5 1385.3 L1954.9 1387.7 L1962.9 1390.2 L1971.1 1392.7 L1978.9 1395.1 L1986.5 1397.5 L1994.1 1400 L2001.6 1402.3 L2009.2 1404.5 L2016.7 1406.5 L2024.6 1408.3 L2032.8 1410 L2040.8 1411.4 L2048.2 1412.5 L2054.5 1413.1 L2059.8 1413 L2064.4 1412.2 L2068.1 1411.2 L2071.2 1410.2 L2073.4 1409.5 L2097.2 1406.1 L2117.1 1385.9 L2145.2 1392.1 L2165.4 1387.3" fill="none" stroke="#636363" stroke-width="11.6" stroke-linecap="round" stroke-linejoin="round"/>
<circle cx="458.5" cy="817.1" r="24"/><circle cx="493.7" cy="820.9" r="24"/><circle cx="529" cy="823.2" r="24"/><circle cx="564.2" cy="823.9" r="24"/><circle cx="599.4" cy="824.3" r="24"/><circle cx="634.7" cy="824.9" r="24"/><circle cx="669.9" cy="827" r="24"/><circle cx="705.1" cy="829.4" r="24"/><circle cx="740.4" cy="831.8" r="24"/><circle cx="775.6" cy="835.1" r="24"/><circle cx="810.9" cy="839" r="24"/><circle cx="846.1" cy="843.5" r="24"/><circle cx="881.3" cy="848" r="24"/><circle cx="916.6" cy="854.2" r="24"/><circle cx="951.8" cy="860.9" r="24"/><circle cx="987" cy="867.2" r="24"/><circle cx="1022.3" cy="873.7" r="24"/><circle cx="1057.5" cy="878.6" r="24"/><circle cx="1092.7" cy="882.6" r="24"/><circle cx="1128" cy="884.5" r="24"/><circle cx="1163.2" cy="885.4" r="24"/><circle cx="1198.4" cy="884.2" r="24"/><circle cx="1233.7" cy="883.6" r="24"/><circle cx="1268.9" cy="883.6" r="24"/><circle cx="1304.1" cy="884" r="24"/><circle cx="1339.4" cy="886.7" r="24"/><circle cx="1374.6" cy="890.8" r="24"/><circle cx="1409.8" cy="897.3" r="24"/><circle cx="1445.1" cy="904.7" r="24"/><circle cx="1480.3" cy="914.9" r="24"/><circle cx="1515.5" cy="927.4" r="24"/><circle cx="1550.8" cy="942.9" r="24"/><circle cx="1586" cy="963.2" r="24"/><circle cx="1621.3" cy="988.9" r="24"/><circle cx="1656.5" cy="1019" r="24"/><circle cx="1691.7" cy="1056.3" r="24"/><circle cx="1727" cy="1099.8" r="24"/><circle cx="1762.2" cy="1150.3" r="24"/><circle cx="1797.4" cy="1204.9" r="24"/><circle cx="1832.7" cy="1260" r="24"/><circle cx="1867.9" cy="1305.6" r="24"/><circle cx="1870.1" cy="1309.8" r="24"/><circle cx="1873.2" cy="1315.9" r="24"/><circle cx="1876.9" cy="1322.8" r="24"/><circle cx="1880.7" cy="1329.8" r="24"/><circle cx="1884.5" cy="1335.8" r="24"/><circle cx="1888.1" cy="1341" r="24"/><circle cx="1891.9" cy="1345.9" r="24"/><circle cx="1895.7" cy="1350.5" r="24"/><circle cx="1899.6" cy="1354.7" r="24"/><circle cx="1903.4" cy="1358.5" r="24"/><circle cx="1907.1" cy="1361.8" r="24"/><circle cx="1910.9" cy="1364.6" r="24"/><circle cx="1914.7" cy="1367" r="24"/><circle cx="1918.5" cy="1369.3" r="24"/><circle cx="1922.3" cy="1371.7" r="24"/><circle cx="1925.7" cy="1374.1" r="24"/><circle cx="1928.9" cy="1376.3" r="24"/><circle cx="1932.2" cy="1378.4" r="24"/><circle cx="1936.2" cy="1380.6" r="24"/><circle cx="1941.2" cy="1382.9" r="24"/><circle cx="1947.5" cy="1385.3" r="24"/><circle cx="1954.9" cy="1387.7" r="24"/><circle cx="1962.9" cy="1390.2" r="24"/><circle cx="1971.1" cy="1392.7" r="24"/><circle cx="1978.9" cy="1395.1" r="24"/><circle cx="1986.5" cy="1397.5" r="24"/><circle cx="1994.1" cy="1400" r="24"/><circle cx="2001.6" cy="1402.3" r="24"/><circle cx="2009.2" cy="1404.5" r="24"/><circle cx="2016.7" cy="1406.5" r="24"/><circle cx="2024.6" cy="1408.3" r="24"/><circle cx="2032.8" cy="1410" r="24"/><circle cx="2040.8" cy="1411.4" r="24"/><circle cx="2048.2" cy="1412.5" r="24"/><circle cx="2054.5" cy="1413.1" r="24"/><circle cx="2059.8" cy="1413" r="24"/><circle cx="2064.4" cy="1412.2" r="24"/><circle cx="2068.1" cy="1411.2" r="24"/><circle cx="2071.2" cy="1410.2" r="24"/><circle cx="2073.4" cy="1409.5" r="24"/><circle cx="2097.2" cy="1406.1" r="24"/><circle cx="2117.1" cy="1385.9" r="24"/><circle cx="2145.2" cy="1392.1" r="24"/>
</g>
<g fill="#997300">
<path d="M458.5 811.9 L493.7 816.7 L529 818.6 L564.2 819.7 L599.4 820.4 L634.7 821.5 L669.9 824.3 L705.1 827.3 L740.4 830.3 L775.6 834 L810.9 838.1 L846.1 842.7 L881.3 847.2 L916.6 852.1 L951.8 857.6 L987 862.9 L1022.3 868.4 L1057.5 872.9 L1092.7 876.5 L1128 877.5 L1163.2 877.4 L1198.4 878.1 L1233.7 879.3 L1268.9 880.4 L1304.1 881.8 L1339.4 884.6 L1374.6 888.8 L1409.8 894.8 L1445.1 901.6 L1480.3 911 L1515.5 922.8 L1550.8 936.8 L1586 956.1 L1621.3 978.8 L1656.5 1007.8 L1691.7 1042.7 L1727 1084.2 L1762.2 1132.5 L1797.4 1183.9 L1832.7 1236 L1867.9 1288.9 L1870.1 1291.7 L1873.2 1295.6 L1876.9 1300.2 L1880.7 1304.9 L1884.5 1309.4 L1888.1 1313.6 L1891.9 1318 L1895.7 1322.4 L1899.6 1326.5 L1903.4 1330.1 L1907.1 1333.4 L1910.9 1336.3 L1914.7 1339 L1918.5 1341.3 L1922.3 1343.4 L1925.7 1345 L1928.9 1346.2 L1932.2 1347.2 L1936.2 1348 L1941.2 1348.8 L1947.5 1349.6 L1954.9 1350.4 L1962.9 1350.9 L1971.1 1351.4 L1978.9 1351.7 L1986.5 1351.8 L1994.1 1351.8 L2001.6 1351.6 L2009.2 1351.3 L2016.7 1350.7 L2024.4 1349.9 L2032.3 1348.7 L2040.1 1347.4 L2047.6 1346.2 L2054.5 1345.1 L2060.9 1344.1 L2067 1343 L2072.7 1342.1 L2078 1341.5 L2082.9 1341.3 L2087.6 1341.8 L2092 1342.8 L2096 1344.1 L2099.3 1345.2 L2101.8 1346 L2118.8 1337.9 L2149 1359.2 L2165.4 1365" fill="none" stroke="#997300" stroke-width="11.6" stroke-linecap="round" stroke-linejoin="round"/>
<circle cx="458.5" cy="811.9" r="24"/><circle cx="493.7" cy="816.7" r="24"/><circle cx="529" cy="818.6" r="24"/><circle cx="564.2" cy="819.7" r="24"/><circle cx="599.4" cy="820.4" r="24"/><circle cx="634.7" cy="821.5" r="24"/><circle cx="669.9" cy="824.3" r="24"/><circle cx="705.1" cy="827.3" r="24"/><circle cx="740.4" cy="830.3" r="24"/><circle cx="775.6" cy="834" r="24"/><circle cx="810.9" cy="838.1" r="24"/><circle cx="846.1" cy="842.7" r="24"/><circle cx="881.3" cy="847.2" r="24"/><circle cx="916.6" cy="852.1" r="24"/><circle cx="951.8" cy="857.6" r="24"/><circle cx="987" cy="862.9" r="24"/><circle cx="1022.3" cy="868.4" r="24"/><circle cx="1057.5" cy="872.9" r="24"/><circle cx="1092.7" cy="876.5" r="24"/><circle cx="1128" cy="877.5" r="24"/><circle cx="1163.2" cy="877.4" r="24"/><circle cx="1198.4" cy="878.1" r="24"/><circle cx="1233.7" cy="879.3" r="24"/><circle cx="1268.9" cy="880.4" r="24"/><circle cx="1304.1" cy="881.8" r="24"/><circle cx="1339.4" cy="884.6" r="24"/><circle cx="1374.6" cy="888.8" r="24"/><circle cx="1409.8" cy="894.8" r="24"/><circle cx="1445.1" cy="901.6" r="24"/><circle cx="1480.3" cy="911" r="24"/><circle cx="1515.5" cy="922.8" r="24"/><circle cx="1550.8" cy="936.8" r="24"/><circle cx="1586" cy="956.1" r="24"/><circle cx="1621.3" cy="978.8" r="24"/><circle cx="1656.5" cy="1007.8" r="24"/><circle cx="1691.7" cy="1042.7" r="24"/><circle cx="1727" cy="1084.2" r="24"/><circle cx="1762.2" cy="1132.5" r="24"/><circle cx="1797.4" cy="1183.9" r="24"/><circle cx="1832.7" cy="1236" r="24"/><circle cx="1867.9" cy="1288.9" r="24"/><circle cx="1870.1" cy="1291.7" r="24"/><circle cx="1873.2" cy="1295.6" r="24"/><circle cx="1876.9" cy="1300.2" r="24"/><circle cx="1880.7" cy="1304.9" r="24"/><circle cx="1884.5" cy="1309.4" r="24"/><circle cx="1888.1" cy="1313.6" r="24"/><circle cx="1891.9" cy="1318" r="24"/><circle cx="1895.7" cy="1322.4" r="24"/><circle cx="1899.6" cy="1326.5" r="24"/><circle cx="1903.4" cy="1330.1" r="24"/><circle cx="1907.1" cy="1333.4" r="24"/><circle cx="1910.9" cy="1336.3" r="24"/><circle cx="1914.7" cy="1339" r="24"/><circle cx="1918.5" cy="1341.3" r="24"/><circle cx="1922.3" cy="1343.4" r="24"/><circle cx="1925.7" cy="1345" r="24"/><circle cx="1928.9" cy="1346.2" r="24"/><circle cx="1932.2" cy="1347.2" r="24"/><circle cx="1936.2" cy="1348" r="24"/><circle cx="1941.2" cy="1348.8" r="24"/><circle cx="1947.5" cy="1349.6" r="24"/><circle cx="1954.9" cy="1350.4" r="24"/><circle cx="1962.9" cy="1350.9" r="24"/><circle cx="1971.1" cy="1351.4" r="24"/><circle cx="1978.9" cy="1351.7" r="24"/><circle cx="1986.5" cy="1351.8" r="24"/><circle cx="1994.1" cy="1351.8" r="24"/><circle cx="2001.6" cy="1351.6" r="24"/><circle cx="2009.2" cy="1351.3" r="24"/><circle cx="2016.7" cy="1350.7" r="24"/><circle cx="2024.4" cy="1349.9" r="24"/><circle cx="2032.3" cy="1348.7" r="24"/><circle cx="2040.1" cy="1347.4" r="24"/><circle cx="2047.6" cy="1346.2" r="24"/><circle cx="2054.5" cy="1345.1" r="24"/><circle cx="2060.9" cy="1344.1" r="24"/><circle cx="2067" cy="1343" r="24"/><circle cx="2072.7" cy="1342.1" r="24"/><circle cx="2078" cy="1341.5" r="24"/><circle cx="2082.9" cy="1341.3" r="24"/><circle cx="2087.6" cy="1341.8" r="24"/><circle cx="2092" cy="1342.8" r="24"/><circle cx="2096" cy="1344.1" r="24"/><circle cx="2099.3" cy="1345.2" r="24"/><circle cx="2101.8" cy="1346" r="24"/><circle cx="2118.8" cy="1337.9" r="24"/><circle cx="2149" cy="1359.2" r="24"/>
</g>
<g fill="#255E91">
<path d="M458.5 811.4 L493.7 816.2 L529 818.1 L564.2 819.2 L599.4 819.9 L634.7 821 L669.9 823.8 L705.1 826.8 L740.4 829.8 L775.6 833.5 L810.9 837.6 L846.1 842.2 L881.3 846.7 L916.6 851.6 L951.8 857.1 L987 862.4 L1022.3 867.9 L1057.5 872.4 L1092.7 876 L1128 877 L1163.2 876.9 L1198.4 877.6 L1233.7 878.8 L1268.9 879.9 L1304.1 881.3 L1339.4 884.1 L1374.6 888.3 L1409.8 894.3 L1445.1 901.1 L1480.3 910.5 L1515.5 922.3 L1550.8 936.3 L1586 955.6 L1621.3 978.3 L1656.5 1006.2 L1691.7 1040.7 L1727 1081.9 L1762.2 1129.8 L1797.4 1180.9 L1832.7 1232.6 L1867.9 1285.2 L1870.1 1288 L1873.2 1291.9 L1876.9 1296.4 L1880.7 1301.2 L1884.5 1305.6 L1888.1 1309.8 L1891.9 1314.3 L1895.7 1318.6 L1899.6 1322.7 L1903.4 1326.4 L1907.1 1329.5 L1910.9 1332.2 L1914.7 1334.6 L1918.5 1336.7 L1922.3 1338.6 L1925.7 1340.4 L1928.9 1341.9 L1932.2 1343.2 L1936.2 1344.3 L1941.2 1345.1 L1947.5 1345.5 L1954.9 1345.7 L1962.9 1345.6 L1971.1 1345.4 L1978.9 1345.1 L1986.5 1344.6 L1994.1 1343.9 L2001.6 1343.1 L2009.2 1342.2 L2016.7 1341.3 L2024.4 1340.2 L2032.3 1339.1 L2040.1 1337.8 L2047.6 1336.7 L2054.5 1335.6 L2060.9 1334.6 L2067 1333.6 L2072.7 1332.7 L2078 1332 L2082.9 1331.8 L2087.6 1332.3 L2092 1333.3 L2096 1334.6 L2099.3 1335.8 L2101.8 1336.6 L2118.8 1330 L2145.2 1348.8 L2165.4 1355.6" fill="none" stroke="#255E91" stroke-width="11.6" stroke-linecap="round" stroke-linejoin="round"/>
<circle cx="458.5" cy="811.4" r="24"/><circle cx="493.7" cy="816.2" r="24"/><circle cx="529" cy="818.1" r="24"/><circle cx="564.2" cy="819.2" r="24"/><circle cx="599.4" cy="819.9" r="24"/><circle cx="634.7" cy="821" r="24"/><circle cx="669.9" cy="823.8" r="24"/><circle cx="705.1" cy="826.8" r="24"/><circle cx="740.4" cy="829.8" r="24"/><circle cx="775.6" cy="833.5" r="24"/><circle cx="810.9" cy="837.6" r="24"/><circle cx="846.1" cy="842.2" r="24"/><circle cx="881.3" cy="846.7" r="24"/><circle cx="916.6" cy="851.6" r="24"/><circle cx="951.8" cy="857.1" r="24"/><circle cx="987" cy="862.4" r="24"/><circle cx="1022.3" cy="867.9" r="24"/><circle cx="1057.5" cy="872.4" r="24"/><circle cx="1092.7" cy="876" r="24"/><circle cx="1128" cy="877" r="24"/><circle cx="1163.2" cy="876.9" r="24"/><circle cx="1198.4" cy="877.6" r="24"/><circle cx="1233.7" cy="878.8" r="24"/><circle cx="1268.9" cy="879.9" r="24"/><circle cx="1304.1" cy="881.3" r="24"/><circle cx="1339.4" cy="884.1" r="24"/><circle cx="1374.6" cy="888.3" r="24"/><circle cx="1409.8" cy="894.3" r="24"/><circle cx="1445.1" cy="901.1" r="24"/><circle cx="1480.3" cy="910.5" r="24"/><circle cx="1515.5" cy="922.3" r="24"/><circle cx="1550.8" cy="936.3" r="24"/><circle cx="1586" cy="955.6" r="24"/><circle cx="1621.3" cy="978.3" r="24"/><circle cx="1656.5" cy="1006.2" r="24"/><circle cx="1691.7" cy="1040.7" r="24"/><circle cx="1727" cy="1081.9" r="24"/><circle cx="1762.2" cy="1129.8" r="24"/><circle cx="1797.4" cy="1180.9" r="24"/><circle cx="1832.7" cy="1232.6" r="24"/><circle cx="1867.9" cy="1285.2" r="24"/><circle cx="1870.1" cy="1288" r="24"/><circle cx="1873.2" cy="1291.9" r="24"/><circle cx="1876.9" cy="1296.4" r="24"/><circle cx="1880.7" cy="1301.2" r="24"/><circle cx="1884.5" cy="1305.6" r="24"/><circle cx="1888.1" cy="1309.8" r="24"/><circle cx="1891.9" cy="1314.3" r="24"/><circle cx="1895.7" cy="1318.6" r="24"/><circle cx="1899.6" cy="1322.7" r="24"/><circle cx="1903.4" cy="1326.4" r="24"/><circle cx="1907.1" cy="1329.5" r="24"/><circle cx="1910.9" cy="1332.2" r="24"/><circle cx="1914.7" cy="1334.6" r="24"/><circle cx="1918.5" cy="1336.7" r="24"/><circle cx="1922.3" cy="1338.6" r="24"/><circle cx="1925.7" cy="1340.4" r="24"/><circle cx="1928.9" cy="1341.9" r="24"/><circle cx="1932.2" cy="1343.2" r="24"/><circle cx="1936.2" cy="1344.3" r="24"/><circle cx="1941.2" cy="1345.1" r="24"/><circle cx="1947.5" cy="1345.5" r="24"/><circle cx="1954.9" cy="1345.7" r="24"/><circle cx="1962.9" cy="1345.6" r="24"/><circle cx="1971.1" cy="1345.4" r="24"/><circle cx="1978.9" cy="1345.1" r="24"/><circle cx="1986.5" cy="1344.6" r="24"/><circle cx="1994.1" cy="1343.9" r="24"/><circle cx="2001.6" cy="1343.1" r="24"/><circle cx="2009.2" cy="1342.2" r="24"/><circle cx="2016.7" cy="1341.3" r="24"/><circle cx="2024.4" cy="1340.2" r="24"/><circle cx="2032.3" cy="1339.1" r="24"/><circle cx="2040.1" cy="1337.8" r="24"/><circle cx="2047.6" cy="1336.7" r="24"/><circle cx="2054.5" cy="1335.6" r="24"/><circle cx="2060.9" cy="1334.6" r="24"/><circle cx="2067" cy="1333.6" r="24"/><circle cx="2072.7" cy="1332.7" r="24"/><circle cx="2078" cy="1332" r="24"/><circle cx="2082.9" cy="1331.8" r="24"/><circle cx="2087.6" cy="1332.3" r="24"/><circle cx="2092" cy="1333.3" r="24"/><circle cx="2096" cy="1334.6" r="24"/><circle cx="2099.3" cy="1335.8" r="24"/><circle cx="2101.8" cy="1336.6" r="24"/><circle cx="2118.8" cy="1330" r="24"/><circle cx="2145.2" cy="1348.8" r="24"/>
</g>
<g fill="#43682B">
<path d="M458.5 809.9 L493.7 813.7 L529 816.6 L564.2 817.9 L599.4 818.8 L634.7 820 L669.9 822.8 L705.1 825.8 L740.4 828.8 L775.6 832.6 L810.9 836.9 L846.1 840.9 L881.3 844.8 L916.6 849 L951.8 853.7 L987 858.6 L1022.3 863.7 L1057.5 867.9 L1092.7 871.1 L1128 873 L1163.2 873.9 L1198.4 874.7 L1233.7 876 L1268.9 877.7 L1304.1 879.8 L1339.4 882.6 L1374.6 886.8 L1409.8 892.8 L1445.1 899.6 L1480.3 908.5 L1515.5 919.8 L1550.8 934.4 L1586 952.8 L1621.3 974.5 L1656.5 1002.8 L1691.7 1036.5 L1727 1076.2 L1762.2 1122.8 L1797.4 1172.9 L1832.7 1223.8 L1867.9 1266.2 L1869.4 1268.2 L1871.5 1271 L1873.9 1274.4 L1876.4 1277.8 L1878.8 1281 L1881 1284 L1883.2 1287.1 L1885.5 1290.2 L1887.7 1293.2 L1890.1 1296.1 L1892.6 1299 L1895.2 1301.7 L1897.9 1304.4 L1900.6 1307 L1903.4 1309.4 L1906.3 1311.6 L1909.3 1313.7 L1912.3 1315.6 L1915.4 1317.3 L1918.5 1318.8 L1921.5 1320 L1924.4 1321 L1927.4 1321.8 L1930.5 1322.4 L1933.6 1323 L1936.7 1323.4 L1939.7 1323.8 L1942.9 1324 L1946.4 1324.1 L1950.6 1323.9 L1955.4 1323.5 L1960.7 1323 L1966.4 1322.3 L1972.5 1321.4 L1978.9 1320.3 L1985.9 1319.1 L1993.4 1317.6 L2001.2 1316.1 L2009 1314.4 L2016.7 1312.8 L2024.4 1311 L2032.3 1309.1 L2040.1 1307.2 L2047.6 1305.5 L2054.5 1304.1 L2060.9 1302.9 L2067 1301.9 L2072.7 1301.1 L2078 1300.6 L2082.9 1300.3 L2087.6 1300.4 L2092 1300.9 L2096 1301.6 L2099.3 1302.3 L2101.8 1302.7 L2124.4 1298.2 L2145.2 1310.3 L2165.4 1311.3" fill="none" stroke="#43682B" stroke-width="11.6" stroke-linecap="round" stroke-linejoin="round"/>
<circle cx="458.5" cy="809.9" r="24"/><circle cx="493.7" cy="813.7" r="24"/><circle cx="529" cy="816.6" r="24"/><circle cx="564.2" cy="817.9" r="24"/><circle cx="599.4" cy="818.8" r="24"/><circle cx="634.7" cy="820" r="24"/><circle cx="669.9" cy="822.8" r="24"/><circle cx="705.1" cy="825.8" r="24"/><circle cx="740.4" cy="828.8" r="24"/><circle cx="775.6" cy="832.6" r="24"/><circle cx="810.9" cy="836.9" r="24"/><circle cx="846.1" cy="840.9" r="24"/><circle cx="881.3" cy="844.8" r="24"/><circle cx="916.6" cy="849" r="24"/><circle cx="951.8" cy="853.7" r="24"/><circle cx="987" cy="858.6" r="24"/><circle cx="1022.3" cy="863.7" r="24"/><circle cx="1057.5" cy="867.9" r="24"/><circle cx="1092.7" cy="871.1" r="24"/><circle cx="1128" cy="873" r="24"/><circle cx="1163.2" cy="873.9" r="24"/><circle cx="1198.4" cy="874.7" r="24"/><circle cx="1233.7" cy="876" r="24"/><circle cx="1268.9" cy="877.7" r="24"/><circle cx="1304.1" cy="879.8" r="24"/><circle cx="1339.4" cy="882.6" r="24"/><circle cx="1374.6" cy="886.8" r="24"/><circle cx="1409.8" cy="892.8" r="24"/><circle cx="1445.1" cy="899.6" r="24"/><circle cx="1480.3" cy="908.5" r="24"/><circle cx="1515.5" cy="919.8" r="24"/><circle cx="1550.8" cy="934.4" r="24"/><circle cx="1586" cy="952.8" r="24"/><circle cx="1621.3" cy="974.5" r="24"/><circle cx="1656.5" cy="1002.8" r="24"/><circle cx="1691.7" cy="1036.5" r="24"/><circle cx="1727" cy="1076.2" r="24"/><circle cx="1762.2" cy="1122.8" r="24"/><circle cx="1797.4" cy="1172.9" r="24"/><circle cx="1832.7" cy="1223.8" r="24"/><circle cx="1867.9" cy="1266.2" r="24"/><circle cx="1869.4" cy="1268.2" r="24"/><circle cx="1871.5" cy="1271" r="24"/><circle cx="1873.9" cy="1274.4" r="24"/><circle cx="1876.4" cy="1277.8" r="24"/><circle cx="1878.8" cy="1281" r="24"/><circle cx="1881" cy="1284" r="24"/><circle cx="1883.2" cy="1287.1" r="24"/><circle cx="1885.5" cy="1290.2" r="24"/><circle cx="1887.7" cy="1293.2" r="24"/><circle cx="1890.1" cy="1296.1" r="24"/><circle cx="1892.6" cy="1299" r="24"/><circle cx="1895.2" cy="1301.7" r="24"/><circle cx="1897.9" cy="1304.4" r="24"/><circle cx="1900.6" cy="1307" r="24"/><circle cx="1903.4" cy="1309.4" r="24"/><circle cx="1906.3" cy="1311.6" r="24"/><circle cx="1909.3" cy="1313.7" r="24"/><circle cx="1912.3" cy="1315.6" r="24"/><circle cx="1915.4" cy="1317.3" r="24"/><circle cx="1918.5" cy="1318.8" r="24"/><circle cx="1921.5" cy="1320" r="24"/><circle cx="1924.4" cy="1321" r="24"/><circle cx="1927.4" cy="1321.8" r="24"/><circle cx="1930.5" cy="1322.4" r="24"/><circle cx="1933.6" cy="1323" r="24"/><circle cx="1936.7" cy="1323.4" r="24"/><circle cx="1939.7" cy="1323.8" r="24"/><circle cx="1942.9" cy="1324" r="24"/><circle cx="1946.4" cy="1324.1" r="24"/><circle cx="1950.6" cy="1323.9" r="24"/><circle cx="1955.4" cy="1323.5" r="24"/><circle cx="1960.7" cy="1323" r="24"/><circle cx="1966.4" cy="1322.3" r="24"/><circle cx="1972.5" cy="1321.4" r="24"/><circle cx="1978.9" cy="1320.3" r="24"/><circle cx="1985.9" cy="1319.1" r="24"/><circle cx="1993.4" cy="1317.6" r="24"/><circle cx="2001.2" cy="1316.1" r="24"/><circle cx="2009" cy="1314.4" r="24"/><circle cx="2016.7" cy="1312.8" r="24"/><circle cx="2024.4" cy="1311" r="24"/><circle cx="2032.3" cy="1309.1" r="24"/><circle cx="2040.1" cy="1307.2" r="24"/><circle cx="2047.6" cy="1305.5" r="24"/><circle cx="2054.5" cy="1304.1" r="24"/><circle cx="2060.9" cy="1302.9" r="24"/><circle cx="2067" cy="1301.9" r="24"/><circle cx="2072.7" cy="1301.1" r="24"/><circle cx="2078" cy="1300.6" r="24"/><circle cx="2082.9" cy="1300.3" r="24"/><circle cx="2087.6" cy="1300.4" r="24"/><circle cx="2092" cy="1300.9" r="24"/><circle cx="2096" cy="1301.6" r="24"/><circle cx="2099.3" cy="1302.3" r="24"/><circle cx="2101.8" cy="1302.7" r="24"/><circle cx="2124.4" cy="1298.2" r="24"/><circle cx="2145.2" cy="1310.3" r="24"/>
</g>
<line x1="563.9" y1="141.3" x2="724" y2="141.3" stroke="#4472C4" stroke-width="12.4" stroke-linecap="round"/>
<circle cx="642.8" cy="140.3" r="24.2" fill="#4472C4"/>
<line x1="563.9" y1="242.9" x2="724" y2="242.9" stroke="#A5A5A5" stroke-width="12.4" stroke-linecap="round"/>
<circle cx="642.8" cy="241.9" r="24.2" fill="#A5A5A5"/>
<line x1="563.9" y1="344.4" x2="724" y2="344.4" stroke="#5B9BD5" stroke-width="12.4" stroke-linecap="round"/>
<circle cx="642.8" cy="343.4" r="24.2" fill="#5B9BD5"/>
<line x1="563.9" y1="445.9" x2="724" y2="445.9" stroke="#264478" stroke-width="12.4" stroke-linecap="round"/>
<circle cx="642.8" cy="444.9" r="24.2" fill="#264478"/>
<line x1="563.9" y1="547.5" x2="724" y2="547.5" stroke="#636363" stroke-width="12.4" stroke-linecap="round"/>
<circle cx="642.8" cy="546.5" r="24.2" fill="#636363"/>
<line x1="563.9" y1="649" x2="724" y2="649" stroke="#255E91" stroke-width="12.4" stroke-linecap="round"/>
<circle cx="642.8" cy="648" r="24.2" fill="#255E91"/>
<line x1="1247.6" y1="141.3" x2="1407.7" y2="141.3" stroke="#ED7D31" stroke-width="12.4" stroke-linecap="round"/>
<circle cx="1326.9" cy="140.3" r="24.2" fill="#ED7D31"/>
<line x1="1247.6" y1="242.9" x2="1407.7" y2="242.9" stroke="#FFC000" stroke-width="12.4" stroke-linecap="round"/>
<circle cx="1326.9" cy="241.9" r="24.2" fill="#FFC000"/>
<line x1="1247.6" y1="344.4" x2="1407.7" y2="344.4" stroke="#70AD47" stroke-width="12.4" stroke-linecap="round"/>
<circle cx="1326.9" cy="343.4" r="24.2" fill="#70AD47"/>
<line x1="1247.6" y1="445.9" x2="1407.7" y2="445.9" stroke="#9E480E" stroke-width="12.4" stroke-linecap="round"/>
<circle cx="1326.9" cy="444.9" r="24.2" fill="#9E480E"/>
<line x1="1247.6" y1="547.5" x2="1407.7" y2="547.5" stroke="#997300" stroke-width="12.4" stroke-linecap="round"/>
<circle cx="1326.9" cy="546.5" r="24.2" fill="#997300"/>
<line x1="1247.6" y1="649" x2="1407.7" y2="649" stroke="#43682B" stroke-width="12.4" stroke-linecap="round"/>
<circle cx="1326.9" cy="648" r="24.2" fill="#43682B"/>
<g stroke="#000" stroke-width="0.6" stroke-linejoin="round">
<text y="163.3" font-size="78"><tspan id="leg0_0_a" x="740.17" textLength="70.16" lengthAdjust="spacingAndGlyphs">r=</tspan><tspan id="leg0_0_b" x="805.19" textLength="131.4" lengthAdjust="spacingAndGlyphs">37.1</tspan><tspan id="leg0_0_c" x="938.36" textLength="132.92" lengthAdjust="spacingAndGlyphs">mm</tspan></text>
<text y="264.9" font-size="78"><tspan id="leg0_1_a" x="740.17" textLength="70.16" lengthAdjust="spacingAndGlyphs">r=</tspan><tspan id="leg0_1_b" x="805.39" textLength="129.62" lengthAdjust="spacingAndGlyphs">37.3</tspan><tspan id="leg0_1_c" x="938.36" textLength="132.92" lengthAdjust="spacingAndGlyphs">mm</tspan></text>
<text y="366.5" font-size="78"><tspan id="leg0_2_a" x="740.17" textLength="70.16" lengthAdjust="spacingAndGlyphs">r=</tspan><tspan id="leg0_2_b" x="805.43" textLength="129.65" lengthAdjust="spacingAndGlyphs">37.5</tspan><tspan id="leg0_2_c" x="938.36" textLength="132.92" lengthAdjust="spacingAndGlyphs">mm</tspan></text>
<text y="468.1" font-size="78"><tspan id="leg0_3_a" x="740.17" textLength="70.16" lengthAdjust="spacingAndGlyphs">r=</tspan><tspan id="leg0_3_b" x="805.43" textLength="129.65" lengthAdjust="spacingAndGlyphs">39.5</tspan><tspan id="leg0_3_c" x="938.36" textLength="132.92" lengthAdjust="spacingAndGlyphs">mm</tspan></text>
<text y="569.7" font-size="78"><tspan id="leg0_4_a" x="740.17" textLength="70.16" lengthAdjust="spacingAndGlyphs">r=</tspan><tspan id="leg0_4_b" x="807.38" textLength="127.45" lengthAdjust="spacingAndGlyphs">41.5</tspan><tspan id="leg0_4_c" x="938.36" textLength="132.92" lengthAdjust="spacingAndGlyphs">mm</tspan></text>
<text y="671.3" font-size="78"><tspan id="leg0_5_a" x="740.17" textLength="70.16" lengthAdjust="spacingAndGlyphs">r=</tspan><tspan id="leg0_5_b" x="807.65" textLength="126.77" lengthAdjust="spacingAndGlyphs">42.6</tspan><tspan id="leg0_5_c" x="938.36" textLength="132.92" lengthAdjust="spacingAndGlyphs">mm</tspan></text>
<text y="163.3" font-size="78"><tspan id="leg1_0_a" x="1424.6" textLength="70.26" lengthAdjust="spacingAndGlyphs">r=</tspan><tspan id="leg1_0_b" x="1489.59" textLength="131.09" lengthAdjust="spacingAndGlyphs">37.2</tspan><tspan id="leg1_0_c" x="1622.98" textLength="132.55" lengthAdjust="spacingAndGlyphs">mm</tspan></text>
<text y="264.9" font-size="78"><tspan id="leg1_1_a" x="1424.6" textLength="70.26" lengthAdjust="spacingAndGlyphs">r=</tspan><tspan id="leg1_1_b" x="1489.53" textLength="128.23" lengthAdjust="spacingAndGlyphs">37.4</tspan><tspan id="leg1_1_c" x="1622.98" textLength="132.55" lengthAdjust="spacingAndGlyphs">mm</tspan></text>
<text y="366.5" font-size="78"><tspan id="leg1_2_a" x="1424.6" textLength="70.26" lengthAdjust="spacingAndGlyphs">r=</tspan><tspan id="leg1_2_b" x="1489.54" textLength="130.02" lengthAdjust="spacingAndGlyphs">38.5</tspan><tspan id="leg1_2_c" x="1622.98" textLength="132.55" lengthAdjust="spacingAndGlyphs">mm</tspan></text>
<text y="468.1" font-size="78"><tspan id="leg1_3_a" x="1424.6" textLength="70.26" lengthAdjust="spacingAndGlyphs">r=</tspan><tspan id="leg1_3_b" x="1491.7" textLength="127.91" lengthAdjust="spacingAndGlyphs">40.5</tspan><tspan id="leg1_3_c" x="1622.98" textLength="132.55" lengthAdjust="spacingAndGlyphs">mm</tspan></text>
<text y="569.7" font-size="78"><tspan id="leg1_4_a" x="1424.6" textLength="70.26" lengthAdjust="spacingAndGlyphs">r=</tspan><tspan id="leg1_4_b" x="1491.7" textLength="127.91" lengthAdjust="spacingAndGlyphs">42.5</tspan><tspan id="leg1_4_c" x="1622.98" textLength="132.55" lengthAdjust="spacingAndGlyphs">mm</tspan></text>
<text y="671.3" font-size="78"><tspan id="leg1_5_a" x="1424.6" textLength="70.26" lengthAdjust="spacingAndGlyphs">r=</tspan><tspan id="leg1_5_b" x="1491.81" textLength="127.59" lengthAdjust="spacingAndGlyphs">43.0</tspan><tspan id="leg1_5_c" x="1622.98" textLength="132.55" lengthAdjust="spacingAndGlyphs">mm</tspan></text>
<text id="y9" x="165.49" y="107.6" font-size="78.6" textLength="215.59" lengthAdjust="spacingAndGlyphs">9.E+03</text>
<text id="y6" x="164.74" y="829.2" font-size="78.6" textLength="216.46" lengthAdjust="spacingAndGlyphs">6.E+03</text>
<text id="y3" x="164.27" y="1550.8" font-size="78.6" textLength="216.96" lengthAdjust="spacingAndGlyphs">3.E+03</text>
<text id="x-185" x="388.1" y="1659.5" font-size="78.6" textLength="140.45" lengthAdjust="spacingAndGlyphs">-185</text>
<text id="x-135" x="849.96" y="1659.5" font-size="78.6" textLength="139.13" lengthAdjust="spacingAndGlyphs">-135</text>
<text id="x-85" x="1329.06" y="1659.5" font-size="78.6" textLength="101.32" lengthAdjust="spacingAndGlyphs">-85</text>
<text id="x-35" x="1790.78" y="1659.5" font-size="78.6" textLength="101.22" lengthAdjust="spacingAndGlyphs">-35</text>
<text font-size="78" xml:space="preserve"><tspan id="xt_Axial" x="988.91" y="1776.9" textLength="178.66" lengthAdjust="spacingAndGlyphs">Axial</tspan><tspan id="xt_depth" x="1163.34" y="1776.9" textLength="217.61" lengthAdjust="spacingAndGlyphs"> depth</tspan><tspan id="xt_comma" x="1384.91" y="1767.9" font-size="56" textLength="75.32" lengthAdjust="spacingAndGlyphs">，</tspan><tspan id="xt_mm" x="1455.69" y="1776.9" textLength="132.57" lengthAdjust="spacingAndGlyphs">mm</tspan></text>
<text transform="translate(111.8 0) rotate(-90)" font-size="78" xml:space="preserve"><tspan id="yt_Static" x="-1248.06" y="0" textLength="183.94" lengthAdjust="spacingAndGlyphs">Static</tspan><tspan id="yt_pressure" x="-1066.15" y="0" textLength="305.39" lengthAdjust="spacingAndGlyphs"> pressure</tspan><tspan id="yt_value" x="-762.41" y="0" textLength="204.99" lengthAdjust="spacingAndGlyphs"> value</tspan><tspan id="yt_comma" x="-557.81" y="-9" font-size="56" textLength="74.04" lengthAdjust="spacingAndGlyphs">，</tspan><tspan id="yt_Pa" x="-486.26" y="0" textLength="81.65" lengthAdjust="spacingAndGlyphs">Pa</tspan></text>
</g>
</svg></body></html>
